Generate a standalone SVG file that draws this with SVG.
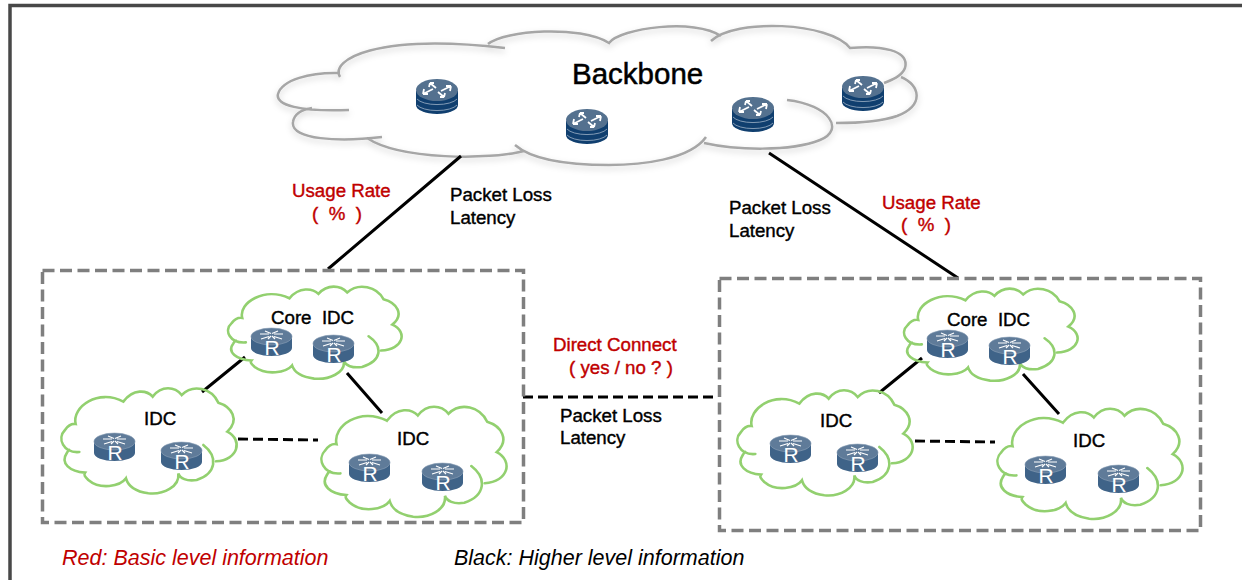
<svg xmlns="http://www.w3.org/2000/svg" width="1242" height="580" viewBox="0 0 1242 580">
<style>
text{font-family:"Liberation Sans",Arial,sans-serif;white-space:pre}
.t{font-size:18.700px;fill:#000;stroke:#000;stroke-width:.4}
.red{font-size:18.700px;fill:#c00000;stroke:#c00000;stroke-width:.4}
.leg{font-size:21.500px;font-style:italic}
.r{font-size:21px;fill:#fff;text-anchor:middle}
.box{fill:none;stroke:#7f7f7f;stroke-width:3.5;stroke-dasharray:12 5.5}
.ln{fill:none;stroke:#000;stroke-width:3}
.dash{fill:none;stroke:#000;stroke-width:3;stroke-dasharray:10 5}
#cloud{fill:none;stroke:#92d06f;stroke-width:2.6;vector-effect:non-scaling-stroke;stroke-linecap:round}
.arw{fill:none;stroke:#fff;stroke-width:1.2}
</style>
<defs>
<filter id="sh" x="-5%" y="-10%" width="110%" height="125%"><feDropShadow dx="0" dy="3" stdDeviation="3" flood-color="#000" flood-opacity=".18"/></filter>
<path id="cloud" d="M148,576C100,580 80,535 105,510C115,495 125,490 137,492C125,440 205,385 280,425C310,385 350,390 368,410C395,375 435,380 455,405C490,370 545,385 565,428C605,440 630,480 592,515C640,540 625,600 558,604M520,555C565,590 560,640 500,660C470,665 450,655 445,640C450,680 400,705 355,700C320,695 295,680 288,655C270,680 210,690 175,660C165,650 160,645 165,638C120,635 90,610 110,580C112,575 115,572 118,570"/>
<g id="rt">
<path d="M0,9A20.5,8.5 0 0 1 41,9V20A20.5,8 0 0 1 0,20Z" fill="#3f6388"/>
<ellipse cx="20.500" cy="8.500" rx="20.500" ry="8.500" fill="#5f7b99" stroke="#8fa3b8" stroke-width=".6"/>
<path class="arw" d="M9,6L18,6M23,6L32,6M10,11L18,8.500M23,8.500L31,11M14,3L20,5.500M27,3L21,5.500M17,11L20,8M24,11L21,8"/>
</g>
<g id="bb">
<path d="M0,12V26A21,9 0 0 0 42,26V12Z" fill="#103f6f"/>
<path d="M1,20A21,8 0 0 0 41,20M1,26A21,8 0 0 0 41,26" fill="none" stroke="#9fb2c6" stroke-width=".8"/>
<ellipse cx="21" cy="11" rx="21" ry="11" fill="#54718f"/>
<path d="M7,15L17,10M7,15L12,15M7,15L8,10M35,7L25,12M35,7L30,7M35,7L34,12M14,4L20,9M14,4L13,8M14,4L18,4M28,18L22,13M28,18L29,14M28,18L24,18" fill="none" stroke="#fff" stroke-width="1.800"/>
</g>
</defs>

<g id="frame"><path d="M10,580V5.500H1242" fill="none" stroke="#484848" stroke-width="3.500"/></g>

<g id="backbone">
<path filter="url(#sh)" fill="none" stroke="#a6a6a6" stroke-width="2.500" d="M340,77C330,60 375,33 505,48M488,44C505,30 580,25 609,43C620,28 695,18 721,36M711,41C735,18 830,22 850,48C880,45 910,50 905,68C902,76 892,80 884,83M901,77C920,85 925,105 897,116C880,122 855,123 836,123M787,100C830,105 845,130 820,140C790,152 735,150 704,143M706,137C690,160 640,165 609,165C560,165 530,158 515,145M524,151C490,160 400,160 367,138M382,137C340,142 290,140 293,122C294,115 300,110 312,108M349,110C300,112 275,105 278,94C282,80 310,72 340,73"/>
<text x="572" y="84" style="font-size:29.500px;stroke:#000;stroke-width:.5">Backbone</text>
<use href="#bb" x="416" y="79"/>
<use href="#bb" x="566" y="109"/>
<use href="#bb" x="732" y="97"/>
<use href="#bb" x="842" y="76"/>
</g>

<g id="connectors">
<path class="ln" d="M461,156L328,269M769,153L958,278"/>
<path class="dash" d="M523,397H715"/>
<path class="ln" d="M245,357L202,392M347,373L382,413M922,358L879,393M1023,374L1059,414"/>
<path class="dash" d="M238,439L318,440M915,441L995,442"/>
</g>

<g id="site-left">
<rect class="box" x="42.500" y="270.500" width="481" height="252"/>
</g>
<g id="core-left">
<use href="#cloud" transform="translate(197,174.200) scale(.33,.292)"/>
<text class="t" x="271" y="324">Core  IDC</text>
<use href="#rt" x="251" y="328"/><text class="r" x="272" y="355">R</text>
<use href="#rt" x="313" y="335"/><text class="r" x="334" y="362">R</text>
</g>
<g id="idc-left-a">
<use href="#cloud" transform="translate(30,260) scale(.3333)"/>
<text class="t" x="144" y="425">IDC</text>
<use href="#rt" x="94" y="433"/><text class="r" x="115" y="460">R</text>
<use href="#rt" x="161" y="442"/><text class="r" x="182" y="469">R</text>
</g>
<g id="idc-left-b">
<use href="#cloud" transform="translate(288.300,272.400) scale(.352,.349)"/>
<text class="t" x="397" y="445">IDC</text>
<use href="#rt" x="349" y="454"/><text class="r" x="370" y="481">R</text>
<use href="#rt" x="422" y="463"/><text class="r" x="443" y="490">R</text>
</g>

<g id="site-right">
<rect class="box" x="719.500" y="278.500" width="481" height="252"/>
</g>
<g id="core-right" transform="translate(676,2)">
<use href="#cloud" transform="translate(197,174.200) scale(.33,.292)"/>
<text class="t" x="271" y="324">Core  IDC</text>
<use href="#rt" x="251" y="328"/><text class="r" x="272" y="355">R</text>
<use href="#rt" x="313" y="335"/><text class="r" x="334" y="362">R</text>
</g>
<g id="idc-right-a" transform="translate(676,2)">
<use href="#cloud" transform="translate(30,260) scale(.3333)"/>
<text class="t" x="144" y="425">IDC</text>
<use href="#rt" x="94" y="433"/><text class="r" x="115" y="460">R</text>
<use href="#rt" x="161" y="442"/><text class="r" x="182" y="469">R</text>
</g>
<g id="idc-right-b" transform="translate(676,2)">
<use href="#cloud" transform="translate(288.300,272.400) scale(.352,.349)"/>
<text class="t" x="397" y="445">IDC</text>
<use href="#rt" x="349" y="454"/><text class="r" x="370" y="481">R</text>
<use href="#rt" x="422" y="463"/><text class="r" x="443" y="490">R</text>
</g>

<g id="labels">
<text class="red" x="292" y="197">Usage Rate</text>
<text class="red" x="337" y="220" text-anchor="middle">(  %  )</text>
<text class="t" x="450" y="201">Packet Loss</text>
<text class="t" x="450" y="224">Latency</text>
<text class="t" x="729" y="214">Packet Loss</text>
<text class="t" x="729" y="237">Latency</text>
<text class="red" x="882" y="209">Usage Rate</text>
<text class="red" x="926" y="231" text-anchor="middle">(  %  )</text>
<text class="red" x="553" y="351">Direct Connect</text>
<text class="red" x="569" y="374">( yes / no ? )</text>
<text class="t" x="560" y="422">Packet Loss</text>
<text class="t" x="560" y="444">Latency</text>
<text class="leg" x="62" y="565" fill="#c00000">Red: Basic level information</text>
<text class="leg" x="454" y="565" fill="#000">Black: Higher level information</text>
</g>
</svg>
